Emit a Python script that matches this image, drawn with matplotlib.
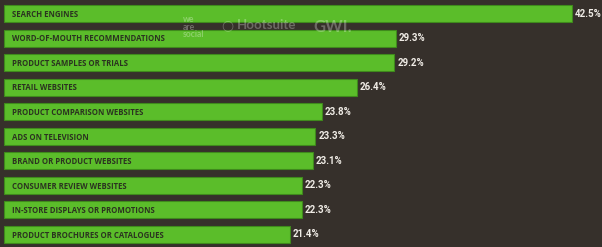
import matplotlib
matplotlib.use("Agg")
import matplotlib.pyplot as plt

categories = [
    "SEARCH ENGINES",
    "WORD-OF-MOUTH RECOMMENDATIONS",
    "PRODUCT SAMPLES OR TRIALS",
    "RETAIL WEBSITES",
    "PRODUCT COMPARISON WEBSITES",
    "ADS ON TELEVISION",
    "BRAND OR PRODUCT WEBSITES",
    "CONSUMER REVIEW WEBSITES",
    "IN-STORE DISPLAYS OR PROMOTIONS",
    "PRODUCT BROCHURES OR CATALOGUES",
]
values = [42.5, 29.3, 29.2, 26.4, 23.8, 23.3, 23.1, 22.3, 22.3, 21.4]
value_labels = ["42.5%", "29.3%", "29.2%", "26.4%", "23.8%", "23.3%", "23.1%", "22.3%", "22.3%", "21.4%"]

BG = "#36302b"
GREEN = "#5bbd2a"
EDGE = "#3f8a1c"

fig = plt.figure(figsize=(6.02, 2.47), dpi=100)
fig.patch.set_facecolor(BG)
ax = fig.add_axes([0, 0, 1, 1])
ax.set_facecolor(BG)

pxu = 568 / 42.5
ax.set_xlim(-4 / pxu, (602 - 4) / pxu)
ax.set_ylim(9.51, -0.55)
ax.axis("off")

ypos = list(range(len(categories)))
ax.barh(ypos, values, height=0.69, color=GREEN, edgecolor=EDGE, linewidth=0.8)

narrow = ["Liberation Sans Narrow", "Roboto", "DejaVu Sans"]
for y, cat, v, lab in zip(ypos, categories, values, value_labels):
    ax.text(8 / pxu, y + 0.03, cat, ha="left", va="center", fontsize=5.6,
            fontweight="bold", color="#2b3320", family=["Open Sans", "DejaVu Sans"])
    ax.text(v + 3 / pxu, y, lab, ha="left", va="center", fontsize=7,
            fontweight="bold", color="#f0ece6", family=narrow)

# faint watermarks
fig.text(183 / 602, 1 - 27 / 247, "we\nare\nsocial", ha="left", va="center",
         fontsize=6.2, linespacing=0.8, color="white", alpha=0.3, fontweight="bold",
         family=["Lato", "DejaVu Sans"])
fig.text(227 / 602, 1 - 25 / 247, "\u25CB", ha="center", va="center",
         fontsize=10, color="white", alpha=0.28, fontweight="bold")
fig.text(237 / 602, 1 - 25 / 247, "Hootsuite", ha="left", va="center",
         fontsize=9.5, color="white", alpha=0.28, fontweight="bold",
         family=["Lato", "DejaVu Sans"])
fig.text(313 / 602, 1 - 27 / 247, "GWI.", ha="left", va="center",
         fontsize=12, color="white", alpha=0.28, fontweight="bold",
         family=["Lato", "DejaVu Sans"])

fig.savefig("out.png", dpi=100, facecolor=BG)
